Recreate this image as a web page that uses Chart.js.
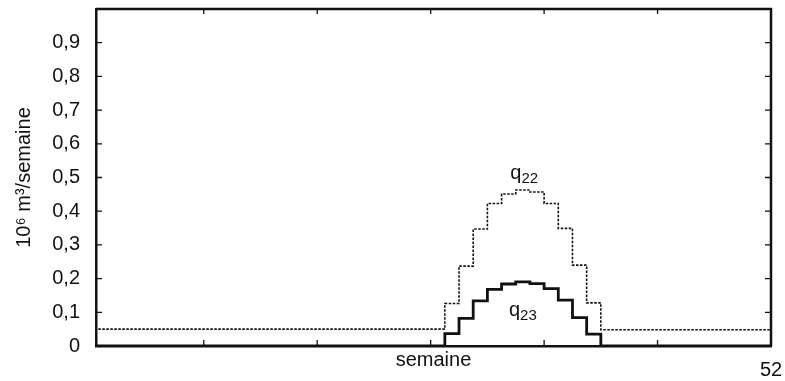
<!DOCTYPE html>
<html>
<head>
<meta charset="utf-8">
<script src="https://cdn.jsdelivr.net/npm/chart.js@4/dist/chart.umd.min.js"></script>
<style>
  html, body { margin: 0; padding: 0; background: #fff; }
  #c { display: block; }
</style>
</head>
<body>
<canvas id="c" width="785" height="381"></canvas>
<script>
// ---- data ----
// interval start week (each value holds from this week to the next one)
const weeks = [4,5,6,7,8,9,10,11,12,13,14,15,16,17,18,19,20,21,22,23,24,25,26,27,28,
               29,30,31,32,33,34,35,36,37,38,39,
               40,41,42,43,44,45,46,47,48,49,50,51,52];
const q22 = [0.05,0.05,0.05,0.05,0.05,0.05,0.05,0.05,0.05,0.05,0.05,0.05,0.05,0.05,0.05,0.05,0.05,0.05,0.05,0.05,0.05,0.05,0.05,0.05,0.05,
             0.126,0.237,0.347,0.423,0.451,0.463,0.457,0.423,0.349,0.24,0.128,
             0.048,0.048,0.048,0.048,0.048,0.048,0.048,0.048,0.048,0.048,0.048,0.048,0.048];
const q23 = [0,0,0,0,0,0,0,0,0,0,0,0,0,0,0,0,0,0,0,0,0,0,0,0,0,
             0.037,0.082,0.134,0.168,0.184,0.19,0.185,0.17,0.136,0.084,0.035,
             0,0,0,0,0,0,0,0,0,0,0,0,0];
const xTicks = [12,20,28,36,44,52];
const xLabels = {52: '52'};
const yTicks = [0,0.1,0.2,0.3,0.4,0.5,0.6,0.7,0.8,0.9,1.0];
const yLabels = ['0','0,1','0,2','0,3','0,4','0,5','0,6','0,7','0,8','0,9',''];
const seriesLabels = [
  {base: 'q', sub: '22', week: 34.6, value: 0.497},
  {base: 'q', sub: '23', week: 34.5, value: 0.09}
];

const FONT = "'Liberation Sans', Arial, sans-serif";
const INK = '#111';

const toPts = (vals) => weeks.map((w, i) => ({x: w, y: vals[i]}));

const noPad = s => { s.paddingTop = 0; s.paddingBottom = 0; s.paddingLeft = 0; s.paddingRight = 0; };

const framePlugin = {
  id: 'frame',
  afterDraw(chart) {
    const {ctx, chartArea: a, scales} = chart;
    ctx.save();
    ctx.strokeStyle = INK;
    ctx.lineWidth = 2.5;
    ctx.beginPath();
    ctx.moveTo(a.left, a.top);
    ctx.lineTo(a.right, a.top);
    ctx.lineTo(a.right, a.bottom);
    ctx.stroke();
    // inward tick marks
    ctx.lineWidth = 1.3;
    ctx.beginPath();
    scales.y.ticks.forEach(t => {
      if (t.value <= 0 || t.value >= 1) return;
      const py = scales.y.getPixelForValue(t.value);
      ctx.moveTo(a.left, py); ctx.lineTo(a.left + 6, py);
      ctx.moveTo(a.right, py); ctx.lineTo(a.right - 6, py);
    });
    scales.x.ticks.forEach(t => {
      if (t.value >= 52) return;
      const px = scales.x.getPixelForValue(t.value);
      ctx.moveTo(px, a.bottom); ctx.lineTo(px, a.bottom - 6);
      ctx.moveTo(px, a.top); ctx.lineTo(px, a.top + 5);
    });
    ctx.stroke();
    // series labels with subscripts
    ctx.fillStyle = INK;
    ctx.textBaseline = 'alphabetic';
    seriesLabels.forEach(l => {
      const px = scales.x.getPixelForValue(l.week);
      const py = scales.y.getPixelForValue(l.value);
      ctx.font = '20px ' + FONT;
      const wb = ctx.measureText(l.base).width;
      ctx.font = '15px ' + FONT;
      const ws = ctx.measureText(l.sub).width;
      const x0 = px - (wb + ws) / 2;
      ctx.font = '20px ' + FONT;
      ctx.fillText(l.base, x0, py);
      ctx.font = '15px ' + FONT;
      ctx.fillText(l.sub, x0 + wb, py + 4);
    });
    ctx.restore();
  }
};

new Chart(document.getElementById('c'), {
  type: 'line',
  data: {
    datasets: [
      {
        label: 'q22',
        data: toPts(q22),
        stepped: 'before',
        borderColor: INK,
        borderWidth: 1.6,
        borderDash: [2.5, 1.5],
        pointRadius: 0,
        fill: false
      },
      {
        label: 'q23',
        data: toPts(q23),
        stepped: 'before',
        borderColor: INK,
        borderWidth: 2.8,
        pointRadius: 0,
        fill: false
      }
    ]
  },
  options: {
    responsive: false,
    devicePixelRatio: 1,
    animation: false,
    layout: { padding: { top: 9, right: 14, left: 0, bottom: 0 } },
    plugins: { legend: { display: false }, tooltip: { enabled: false } },
    scales: {
      x: {
        type: 'linear',
        min: 4.4,
        max: 52,
        afterBuildTicks: s => { s.ticks = xTicks.map(v => ({value: v})); },
        afterFit: s => { s.height = 35; noPad(s); },
        grid: { display: false, drawTicks: false },
        border: { display: true, color: INK, width: 2.5 },
        ticks: {
          autoSkip: false, maxRotation: 0, padding: 12,
          color: INK, font: { family: FONT, size: 20 },
          callback: v => xLabels[v] || ''
        },
        title: {
          display: true, text: 'semaine', color: INK,
          font: { family: FONT, size: 20 },
          padding: { top: 0, bottom: 9 }
        }
      },
      y: {
        type: 'linear',
        min: 0,
        max: 1,
        afterBuildTicks: s => { s.ticks = yTicks.map(v => ({value: v})); },
        afterFit: s => { s.width = 96; noPad(s); },
        grid: { display: false, drawTicks: false },
        border: { display: true, color: INK, width: 2.5 },
        ticks: {
          padding: 16, color: INK, font: { family: FONT, size: 20 },
          callback: (v, i) => yLabels[i]
        },
        title: {
          display: true, text: '10\u2076 m\u00B3/semaine', color: INK,
          font: { family: FONT, size: 20 },
          padding: { top: 12, bottom: 0 }
        }
      }
    }
  },
  plugins: [framePlugin]
});
</script>
</body>
</html>
